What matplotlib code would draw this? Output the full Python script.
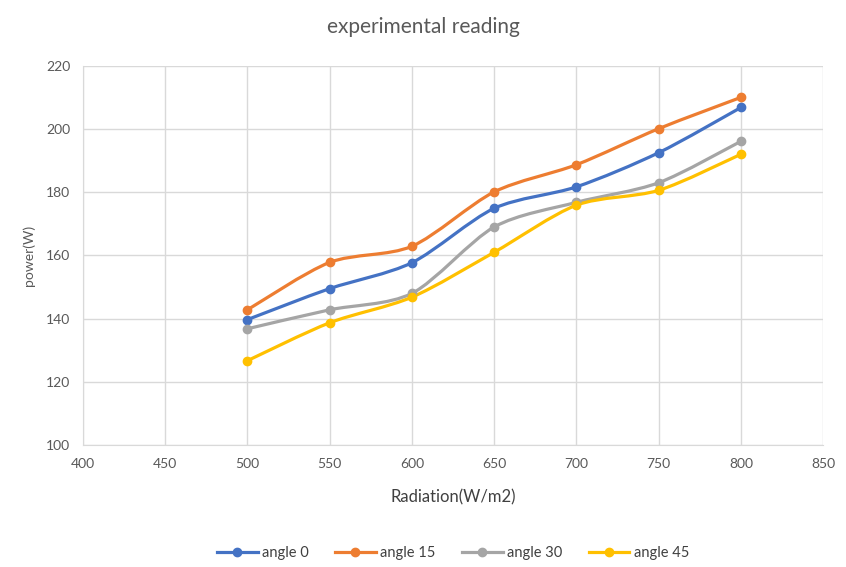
import matplotlib as mpl
mpl.use('Agg')
import matplotlib.pyplot as plt
from matplotlib.path import Path
from matplotlib.patches import PathPatch
import numpy as np

plt.rcParams['font.family'] = ['Lato', 'DejaVu Sans']

radiation = [500, 550, 600, 650, 700, 750, 800]
angle_0 = [139.7, 149.5, 157.7, 174.9, 181.7, 192.5, 206.8]
angle_15 = [142.8, 157.8, 162.9, 180.1, 188.7, 200.1, 210.0]
angle_30 = [136.8, 142.8, 148.0, 169.0, 176.8, 183.0, 196.1]
angle_45 = [126.7, 138.7, 146.8, 161.0, 175.9, 180.6, 192.0]

series = [('angle 0', angle_0, '#4472C4'),
          ('angle 15', angle_15, '#ED7D31'),
          ('angle 30', angle_30, '#A5A5A5'),
          ('angle 45', angle_45, '#FFC000')]


def smooth_path(xs, ys, k=1 / 7.0):
    # Excel-style smoothed line: Catmull-Rom segments as cubic Bezier
    pts = np.column_stack([xs, ys]).astype(float)
    n = len(pts)
    verts = [pts[0]]
    codes = [Path.MOVETO]
    for i in range(n - 1):
        p0 = pts[max(i - 1, 0)]
        p1 = pts[i]
        p2 = pts[i + 1]
        p3 = pts[min(i + 2, n - 1)]
        c1 = p1 + (p2 - p0) * k
        c2 = p2 - (p3 - p1) * k
        verts += [c1, c2, p2]
        codes += [Path.CURVE4] * 3
    return Path(verts, codes)


fig = plt.figure(figsize=(8.46, 5.67), dpi=100)
ax = fig.add_axes([0.098, 0.215, 0.875, 0.669])

for label, vals, color in series:
    patch = PathPatch(smooth_path(radiation, vals), facecolor='none',
                      edgecolor=color, lw=2.3, capstyle='round', zorder=3)
    ax.add_patch(patch)
    ax.plot(radiation, vals, color=color, ls='none', marker='o',
            markersize=6, zorder=4)
    ax.plot([], [], color=color, lw=2.3, marker='o', markersize=6, label=label)

ax.set_xlim(400, 850)
ax.set_ylim(100, 220)
ax.set_xticks(np.arange(400, 851, 50))
ax.set_yticks(np.arange(100, 221, 20))
ax.grid(color='#D9D9D9', lw=1)
ax.set_axisbelow(True)
for s in ['top', 'right']:
    ax.spines[s].set_visible(False)
for s in ['left', 'bottom']:
    ax.spines[s].set_color('#D9D9D9')
ax.tick_params(length=0, labelsize=10, colors='#595959', pad=9)

ax.set_xlabel('Radiation(W/m2)', fontsize=12, color='#404040', labelpad=14)
ax.set_ylabel('power(W)', fontsize=10, color='#595959', labelpad=8)
fig.suptitle('experimental reading', fontsize=15, color='#595959', y=0.97)

ax.legend(loc='center', bbox_to_anchor=(0.5, -0.285), ncol=4, frameon=False,
          fontsize=10.5, labelcolor='#404040', handlelength=2.8,
          columnspacing=1.8, handletextpad=0.3)

plt.savefig('out.png', dpi=100)
